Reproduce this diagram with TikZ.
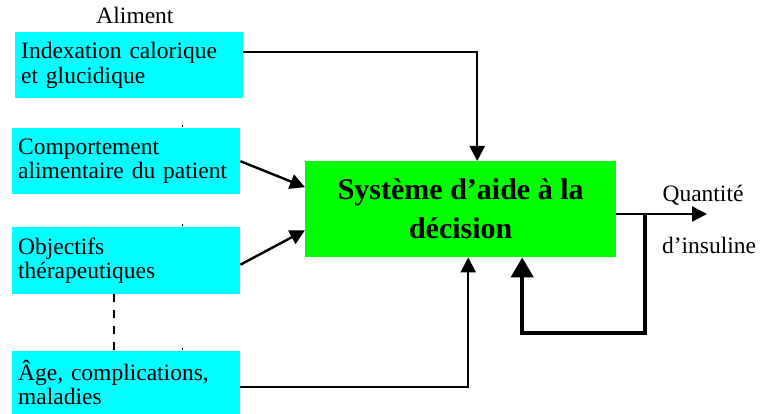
\documentclass[tikz,border=0pt]{standalone}
\usepackage{fontspec}
\setmainfont{Liberation Serif}
\usetikzlibrary{arrows.meta,calc}
\definecolor{boxcyan}{RGB}{0,255,255}
\definecolor{boxgreen}{RGB}{0,255,0}
\begin{document}
\begin{tikzpicture}[x=1pt,y=-1pt,
  inbox/.style={fill=boxcyan,draw=none,anchor=north west,minimum height=#1,
    text width=216pt,inner xsep=6pt,inner ysep=0pt,align=left,
    font=\fontsize{23.5}{24.5}\selectfont},
  sysbox/.style={fill=boxgreen,draw=none,anchor=north west,minimum width=311pt,minimum height=96pt,
    align=center,font=\fontsize{30}{39}\selectfont\bfseries},
  lbl/.style={font=\fontsize{23.5}{24}\selectfont,inner sep=0pt},
  thin/.style={line width=2.4pt,-{Triangle[length=15pt,width=15pt]}},
  thick/.style={line width=4.5pt,-{Triangle[length=20pt,width=22pt]}}]
\useasboundingbox (0,0) rectangle (760,414);
\node[lbl] (al) at (135,15) {Aliment};
\node[inbox=66pt] (b1) at (15,32) {Indexation calorique\\et glucidique};
\node[inbox=66pt] (b2) at (12,128) {Comportement\\alimentaire du patient};
\node[inbox=67pt] (b3) at (12,227) {Objectifs\\thérapeutiques};
\node[inbox=63pt] (b4) at (12,351) {Âge, complications,\\maladies};
\node[sysbox] (sys) at (305,161) {Système d’aide à la\\décision};
\node[lbl] (q1) at (703,195) {Quantité};
\node[lbl] (q2) at (709,245) {d’insuline};
\coordinate (out) at (707,214);
\coordinate (fb) at (645,214);
% inputs
\draw[thin] ([yshift=13pt]b1.east) -| ([xshift=16.5pt]sys.north);
\draw[thin] (b2.east) -- ([yshift=22pt]sys.west);
\draw[thin] ([yshift=-4pt]b3.east) -- ([yshift=-21pt]sys.west);
\draw[thin] ([yshift=-4pt]b4.east) -| ([xshift=7.5pt]sys.south);
% output
\draw[thin] (sys.east |- out) -- (out);
\draw[thick] (fb) -- ++(0,119) -| ([xshift=61.5pt]sys.south);
% dashed continuation
\draw[line width=2.4pt,dash pattern=on 8pt off 8pt] (b3.south -| 114,0) -- (b4.north -| 114,0);
% tiny marks
\foreach \n in {b2,b3,b4}{\draw[line width=1pt] ([yshift=3pt]\n.north -| 182,0) -- ([yshift=1pt]\n.north -| 182,0);}
\end{tikzpicture}
\end{document}
